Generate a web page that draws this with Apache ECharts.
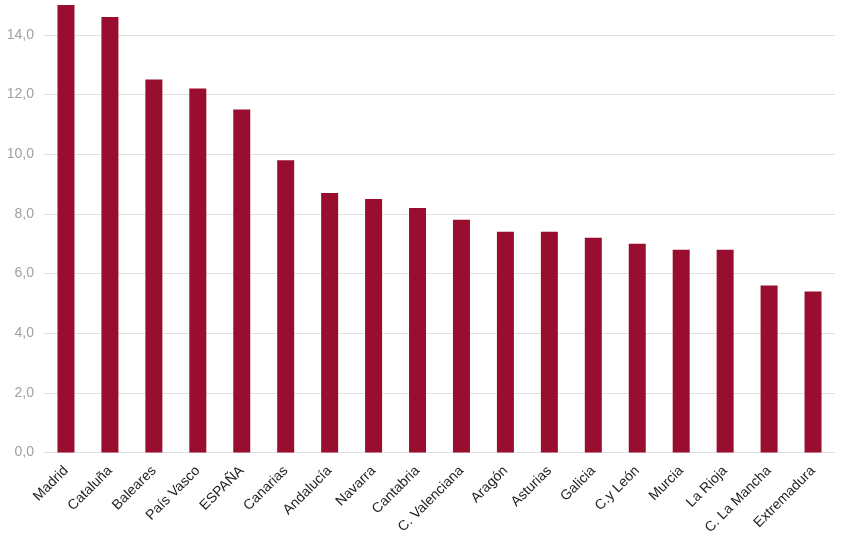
<!DOCTYPE html>
<html>
<head>
<meta charset="utf-8">
<script src="https://cdn.jsdelivr.net/npm/echarts@6/dist/echarts.min.js"></script>
<style>
html,body{margin:0;padding:0;background:#fff;}
#chart{width:850px;height:540px;}
</style>
</head>
<body>
<div id="chart"></div>
<script>
const categories = ["Madrid","Cataluña","Baleares","País Vasco","ESPAÑA","Canarias","Andalucía","Navarra","Cantabria","C. Valenciana","Aragón","Asturias","Galicia","C.y León","Murcia","La Rioja","C. La Mancha","Extremadura"];
const values = [15.0,14.6,12.5,12.2,11.5,9.8,8.7,8.5,8.2,7.8,7.4,7.4,7.2,7.0,6.8,6.8,5.6,5.4];

const chart = echarts.init(document.getElementById('chart'), null, {renderer:'canvas'});
chart.setOption({
  animation:false,
  backgroundColor:'#ffffff',
  grid:{left:44, right:15, top:5, bottom:87.4, containLabel:false},
  xAxis:{
    type:'category',
    data:categories,
    axisLine:{show:false},
    axisTick:{show:false},
    axisLabel:{rotate:45, color:'#222', fontFamily:'Liberation Sans, Arial, sans-serif', fontSize:14, margin:16, interval:0}
  },
  yAxis:{
    type:'value',
    min:0, max:15, interval:2,
    axisLine:{show:false},
    axisTick:{show:false},
    splitLine:{showMaxLine:false, lineStyle:{color:'#e0e0e0', width:1}},
    axisLabel:{showMaxLabel:false, color:'#a0a0a0', fontFamily:'Liberation Sans, Arial, sans-serif', fontSize:14, margin:10,
      formatter:function(v){return v.toFixed(1).replace('.',',');}}
  },
  series:[{
    type:'bar',
    data:values,
    barWidth:17,
    itemStyle:{color:'#990e2f'}
  }]
});
</script>
</body>
</html>
